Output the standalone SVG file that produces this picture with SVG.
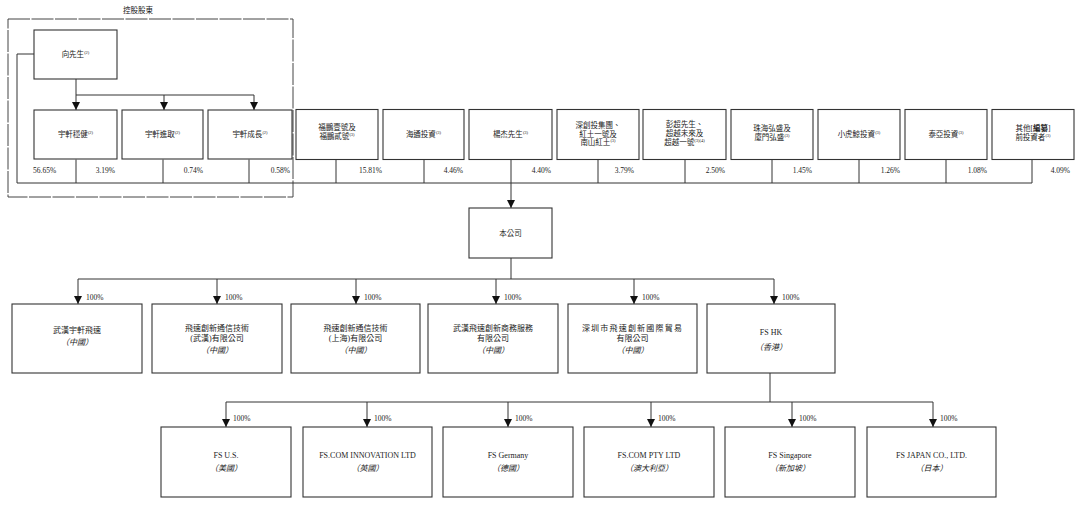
<svg xmlns="http://www.w3.org/2000/svg" width="1080" height="505" viewBox="0 0 1080 505">
<style>
text{font-family:"Liberation Serif","Noto Sans CJK TC",serif;fill:#222;}
.t{font-size:7.5px;text-anchor:middle;}
.c{font-size:8px;text-anchor:middle;}
.i{font-style:italic;}
.p{font-size:7.5px;text-anchor:end;}
.l{font-size:7.5px;}
.s{font-size:4.5px;}
.box{fill:#fff;stroke:#333;stroke-width:1.1;}
.ln{fill:none;stroke:#333;stroke-width:1;}
.arr{fill:none;stroke:#333;stroke-width:1;marker-end:url(#ah);}
</style>
<defs>
<marker id="ah" markerUnits="userSpaceOnUse" markerWidth="9" markerHeight="9" refX="8" refY="4" orient="auto">
<path d="M0,0 L8,4 L0,8 z" fill="#111"/>
</marker>
</defs>
<rect width="1080" height="505" fill="#fff"/>

<text class="t" x="138" y="13">控股股東</text>
<rect x="8" y="19" width="285" height="178" fill="none" stroke="#444" stroke-width="1" stroke-dasharray="22 1.5"/>

<g id="connectors">
<path class="ln" d="M34,54 H17 V183 H1032"/>
<path class="ln" d="M76,79 V95 M76,95 H254"/>
<path class="arr" d="M76,95 V110"/>
<path class="arr" d="M164,95 V110"/>
<path class="arr" d="M254,95 V110"/>
<path class="ln" d="M76,159.5 V183 M163,159.5 V183 M249,159.5 V183 M336,159.5 V183 M424,159.5 V183 M598,159.5 V183 M685,159.5 V183 M772,159.5 V183 M859,159.5 V183 M946,159.5 V183 M1032,159.5 V183"/>
<path class="arr" d="M511,159.5 V208"/>
<path class="ln" d="M511,258 V279 M78,279 H774"/>
<path class="arr" d="M78,279 V304"/>
<path class="arr" d="M217,279 V304"/>
<path class="arr" d="M356,279 V304"/>
<path class="arr" d="M496,279 V304"/>
<path class="arr" d="M634,279 V304"/>
<path class="arr" d="M774,279 V304"/>
<path class="ln" d="M770,373 V402 M226,402 H933"/>
<path class="arr" d="M226,402 V427"/>
<path class="arr" d="M367,402 V427"/>
<path class="arr" d="M508,402 V427"/>
<path class="arr" d="M651,402 V427"/>
<path class="arr" d="M792,402 V427"/>
<path class="arr" d="M933,402 V427"/>
</g>

<g id="pct">
<text class="p" x="33" y="172.5" style="text-anchor:start">56.65%</text>
<text class="p" x="115" y="172.5">3.19%</text>
<text class="p" x="203" y="172.5">0.74%</text>
<text class="p" x="290" y="172.5">0.58%</text>
<text class="p" x="382" y="172.5">15.81%</text>
<text class="p" x="463" y="172.5">4.46%</text>
<text class="p" x="551" y="172.5">4.40%</text>
<text class="p" x="634" y="172.5">3.79%</text>
<text class="p" x="725" y="172.5">2.50%</text>
<text class="p" x="812" y="172.5">1.45%</text>
<text class="p" x="900" y="172.5">1.26%</text>
<text class="p" x="987" y="172.5">1.08%</text>
<text class="p" x="1070" y="172.5">4.09%</text>
</g>

<g id="n-xiang"><rect class="box" x="34" y="30" width="83" height="49"/><text class="t" x="75.5" y="57">向先生<tspan class="s" dy="-3">(2)</tspan></text></g>
<g id="n-yx1"><rect class="box" x="34" y="110" width="83" height="49"/><text class="t" x="75.5" y="137">宇軒穩健<tspan class="s" dy="-3">(2)</tspan></text></g>
<g id="n-yx2"><rect class="box" x="122" y="110" width="81" height="49"/><text class="t" x="162.5" y="137">宇軒進取<tspan class="s" dy="-3">(2)</tspan></text></g>
<g id="n-yx3"><rect class="box" x="208" y="110" width="84" height="49"/><text class="t" x="250" y="137">宇軒成長<tspan class="s" dy="-3">(2)</tspan></text></g>
<g id="n-fp"><rect class="box" x="296" y="109.5" width="82" height="50"/><text class="t" x="337" y="130">福鵬壹號及</text><text class="t" x="337" y="139">福鵬貳號<tspan class="s" dy="-3">(3)</tspan></text></g>
<g id="n-ht"><rect class="box" x="383" y="109.5" width="81" height="50"/><text class="t" x="423.5" y="137">海通投資<tspan class="s" dy="-3">(3)</tspan></text></g>
<g id="n-yj"><rect class="box" x="469" y="109.5" width="83" height="50"/><text class="t" x="510.5" y="137">楊杰先生<tspan class="s" dy="-3">(3)</tspan></text></g>
<g id="n-sc"><rect class="box" x="557" y="109.5" width="82" height="50"/><text class="t" x="598" y="128">深創投集團、</text><text class="t" x="598" y="136.5">紅土一號及</text><text class="t" x="598" y="145">南山紅土<tspan class="s" dy="-3">(3)</tspan></text></g>
<g id="n-pc"><rect class="box" x="643" y="109.5" width="83" height="50"/><text class="t" x="684.5" y="127">彭超先生、</text><text class="t" x="684.5" y="136">超越未來及</text><text class="t" x="684.5" y="145">超越一號<tspan class="s" dy="-3">(3)(4)</tspan></text></g>
<g id="n-zh"><rect class="box" x="731" y="109.5" width="82" height="50"/><text class="t" x="772" y="131">珠海弘盛及</text><text class="t" x="772" y="140">廈門弘盛<tspan class="s" dy="-3">(3)</tspan></text></g>
<g id="n-xhj"><rect class="box" x="818" y="109.5" width="82" height="50"/><text class="t" x="859" y="137">小虎鯨投資<tspan class="s" dy="-3">(3)</tspan></text></g>
<g id="n-ty"><rect class="box" x="905" y="109.5" width="82" height="50"/><text class="t" x="946" y="137">泰亞投資<tspan class="s" dy="-3">(3)</tspan></text></g>
<g id="n-qt"><rect class="box" x="992" y="109.5" width="82" height="50"/><text class="t" x="1033" y="131">其他[<tspan font-weight="bold">編纂</tspan>]</text><text class="t" x="1033" y="140">前投資者<tspan class="s" dy="-3">(3)</tspan></text></g>

<g id="n-company"><rect class="box" x="469" y="208" width="83" height="50"/><text class="t" x="510.5" y="236">本公司</text></g>

<g id="lbl3">
<text class="l" x="86" y="300">100%</text>
<text class="l" x="225" y="300">100%</text>
<text class="l" x="364" y="300">100%</text>
<text class="l" x="504" y="300">100%</text>
<text class="l" x="642" y="300">100%</text>
<text class="l" x="782" y="300">100%</text>
</g>

<g id="n-whyx"><rect class="box" x="12" y="304" width="130" height="69"/><text class="c" x="77" y="333">武漢宇軒飛速</text><text class="c i" x="77" y="345">（中國）</text></g>
<g id="n-fswh"><rect class="box" x="152" y="304" width="130" height="69"/><text class="c" x="217" y="331">飛速創新通信技術</text><text class="c" x="217" y="340.5">(武漢)有限公司</text><text class="c i" x="217" y="353">（中國）</text></g>
<g id="n-fssh"><rect class="box" x="291" y="304" width="129" height="69"/><text class="c" x="355.5" y="331">飛速創新通信技術</text><text class="c" x="355.5" y="340.5">(上海)有限公司</text><text class="c i" x="355.5" y="353">（中國）</text></g>
<g id="n-whsw"><rect class="box" x="428" y="304" width="130" height="69"/><text class="c" x="493" y="331">武漢飛速創新商務服務</text><text class="c" x="493" y="340.5">有限公司</text><text class="c i" x="493" y="353">（中國）</text></g>
<g id="n-szgj"><rect class="box" x="568" y="304" width="129" height="69"/><text class="c" x="632.5" y="331" letter-spacing="1.2">深圳市飛速創新國際貿易</text><text class="c" x="632.5" y="340.5">有限公司</text><text class="c i" x="632.5" y="353">（中國）</text></g>
<g id="n-fshk"><rect class="box" x="707" y="304" width="128" height="69"/><text class="c" x="771" y="335">FS HK</text><text class="c i" x="771" y="350">（香港）</text></g>

<g id="lbl4">
<text class="l" x="233" y="421">100%</text>
<text class="l" x="374" y="421">100%</text>
<text class="l" x="515" y="421">100%</text>
<text class="l" x="658" y="421">100%</text>
<text class="l" x="799" y="421">100%</text>
<text class="l" x="940" y="421">100%</text>
</g>

<g id="n-fsus"><rect class="box" x="161" y="427" width="130" height="70"/><text class="c" x="226" y="458">FS U.S.</text><text class="c i" x="226" y="471">（美國）</text></g>
<g id="n-fsuk"><rect class="box" x="303" y="427" width="129" height="70"/><text class="c" x="367.5" y="458">FS.COM INNOVATION LTD</text><text class="c i" x="367.5" y="471">（英國）</text></g>
<g id="n-fsde"><rect class="box" x="443" y="427" width="130" height="70"/><text class="c" x="508" y="458">FS Germany</text><text class="c i" x="508" y="471">（德國）</text></g>
<g id="n-fsau"><rect class="box" x="584" y="427" width="130" height="70"/><text class="c" x="649" y="458">FS.COM PTY LTD</text><text class="c i" x="649" y="471">（澳大利亞）</text></g>
<g id="n-fssg"><rect class="box" x="725" y="427" width="130" height="70"/><text class="c" x="790" y="458">FS Singapore</text><text class="c i" x="790" y="471">（新加坡）</text></g>
<g id="n-fsjp"><rect class="box" x="867" y="427" width="129" height="70"/><text class="c" x="931.5" y="458">FS JAPAN CO., LTD.</text><text class="c i" x="931.5" y="471">（日本）</text></g>
</svg>
